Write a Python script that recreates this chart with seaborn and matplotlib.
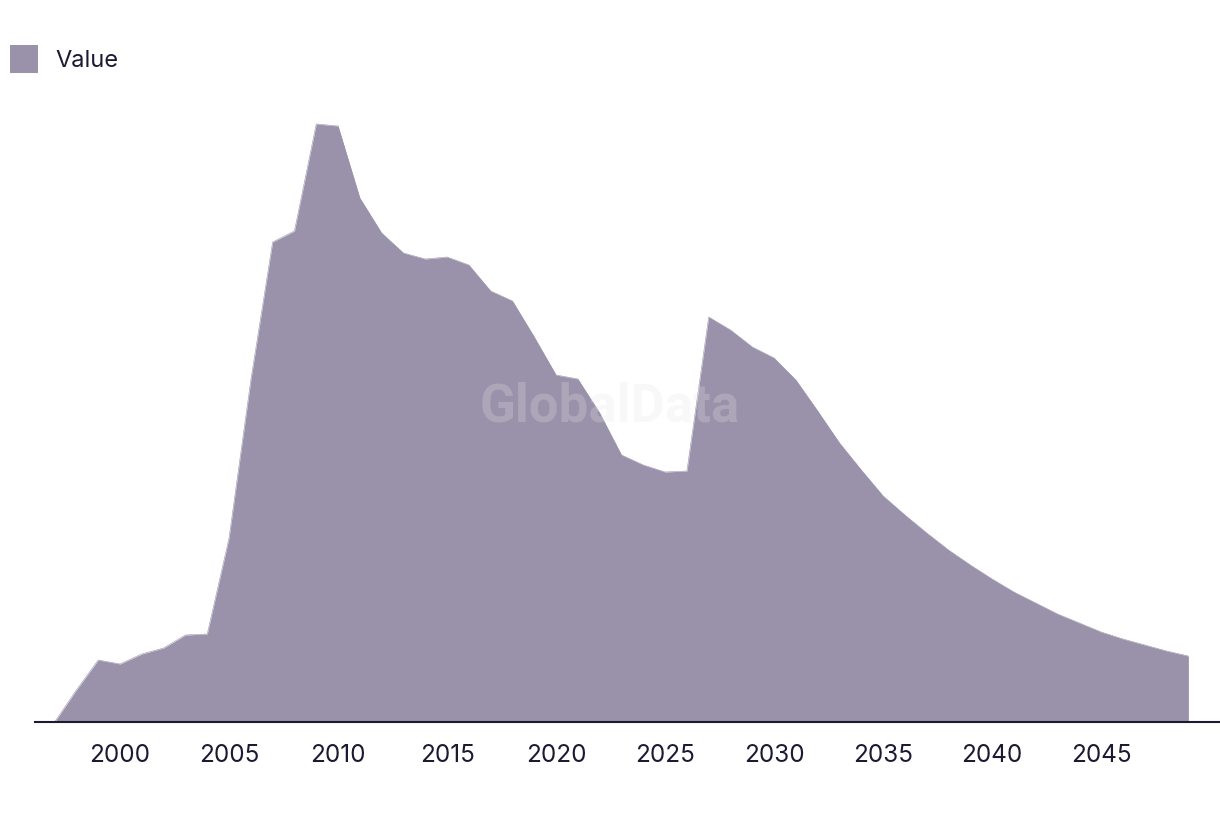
import matplotlib
matplotlib.use("Agg")
import matplotlib.pyplot as plt
import seaborn as sns
import pandas as pd
import numpy as np
from matplotlib.patches import Patch

years = list(range(1997, 2050))
values = [0, 32, 62, 58, 68, 74, 87, 88, 184, 342,
          480, 491, 598, 596, 524, 489, 469, 463, 465, 457,
          431, 421, 385, 347, 343, 309, 267, 257, 250, 251,
          405, 392, 375, 364, 342, 311, 279, 252, 226, 207,
          189, 172, 157, 143, 130, 119, 108, 99, 90, 83,
          77, 71, 66]
series_name = "Value"
tick_years = [2000, 2005, 2010, 2015, 2020, 2025, 2030, 2035, 2040, 2045]

df = pd.DataFrame({"Year": years, series_name: values})

sns.set_theme(style="white")
plt.rcParams["font.family"] = ["Inter", "DejaVu Sans"]

fill_color = "#9a91aa"
text_color = "#1c1a33"

fig = plt.figure(figsize=(12.2, 8.14), dpi=100)
ax = fig.add_axes([35 / 1220, 92 / 814, 1185 / 1220, 630 / 814])

sns.lineplot(data=df, x="Year", y=series_name, ax=ax, color=fill_color, linewidth=0.4, legend=False)
ax.fill_between(df["Year"], 0, df[series_name], color=fill_color, linewidth=0)

ax.set_xlim(1996.1, 2050.45)
ax.set_ylim(0, 630)
ax.set_xticks(tick_years)
ax.set_xticklabels([str(t) for t in tick_years], fontsize=17.5, color=text_color)
ax.set_yticks([])
ax.set_xlabel("")
ax.set_ylabel("")
ax.tick_params(axis="x", length=0, pad=16)
for s in ["top", "right", "left"]:
    ax.spines[s].set_visible(False)
ax.spines["bottom"].set_color(text_color)
ax.spines["bottom"].set_linewidth(1.5)

fig.text(0.5, 1 - 407 / 814, "GlobalData", ha="center", va="center",
         fontsize=38, fontweight="bold", color="#e6e6e6", alpha=0.25, zorder=10,
         family=["Roboto", "DejaVu Sans"])

handles = [Patch(facecolor=fill_color, edgecolor="none", label=series_name)]
fig.legend(handles=handles, loc="upper left", bbox_to_anchor=(10 / 1220, 1 - 45 / 814), frameon=False,
           fontsize=17, handlelength=1.19, handleheight=1.45, handletextpad=0.72,
           labelcolor=text_color, borderaxespad=0, borderpad=0)

fig.savefig("out.png", dpi=100)
